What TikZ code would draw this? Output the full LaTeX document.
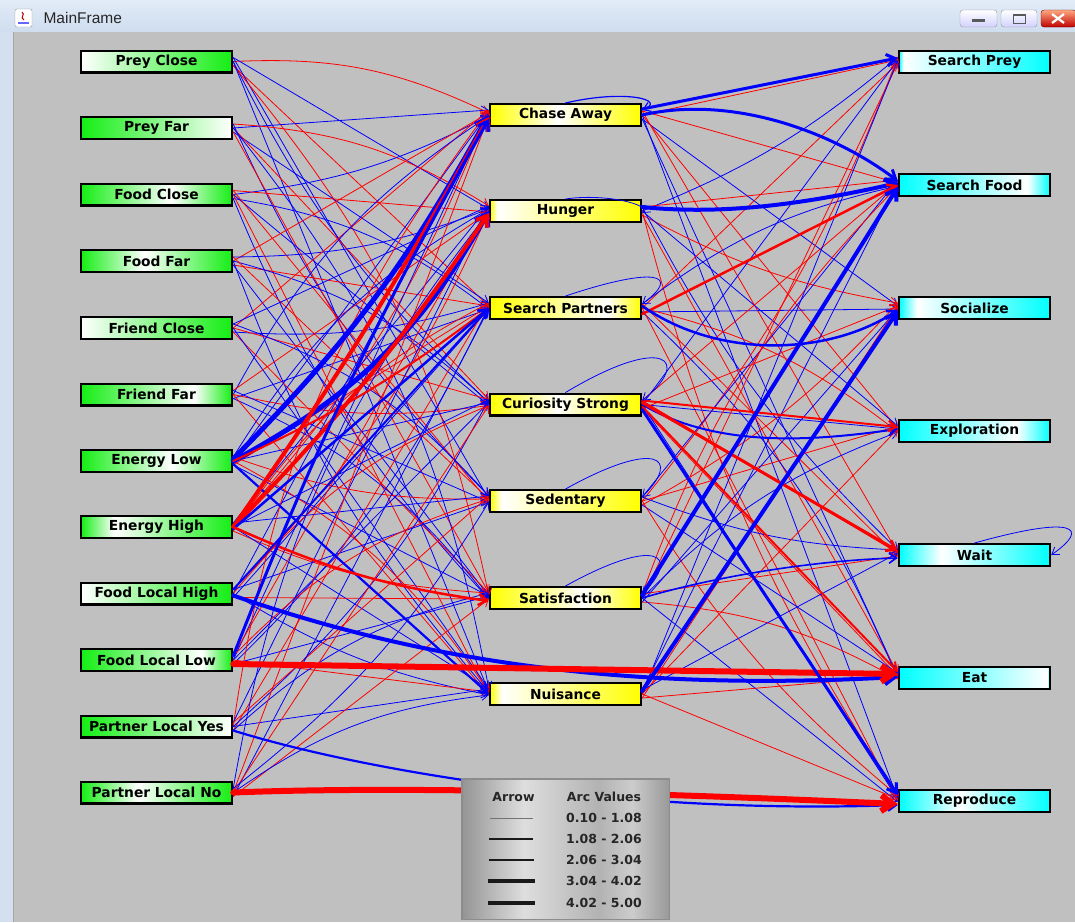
\documentclass[tikz,border=0pt]{standalone}
\usepackage{fontspec}
\setmainfont{DejaVu Sans}
\newfontfamily\titlefont{Liberation Sans}
\usetikzlibrary{arrows.meta,calc}
\definecolor{winbg}{RGB}{192,192,192}
\definecolor{ngreen}{RGB}{20,238,20}
\definecolor{nyellow}{RGB}{255,255,0}
\definecolor{ncyan}{RGB}{0,255,255}
\definecolor{arcred}{RGB}{255,0,0}
\definecolor{arcblue}{RGB}{0,0,255}
\definecolor{tbtop}{RGB}{226,235,247}
\definecolor{tbbot}{RGB}{206,221,239}
\definecolor{wframe}{RGB}{210,224,240}
\newcommand\mkgrad[3]{%
  \pgfmathsetmacro\gpos{25+50*#3}%
  \edef\gtmp{\noexpand\pgfdeclarehorizontalshading{#1}{100bp}{color(0bp)=(#2); color(25bp)=(#2); color(\gpos bp)=(white); color(75bp)=(#2); color(100bp)=(#2)}}%
  \gtmp}
\mkgrad{gL1}{ngreen}{0.0}
\mkgrad{gL2}{ngreen}{1.0}
\mkgrad{gL3}{ngreen}{0.6}
\mkgrad{gL4}{ngreen}{0.42}
\mkgrad{gL5}{ngreen}{0.0}
\mkgrad{gL6}{ngreen}{0.75}
\mkgrad{gL7}{ngreen}{0.6}
\mkgrad{gL8}{ngreen}{0.22}
\mkgrad{gL9}{ngreen}{0.0}
\mkgrad{gL10}{ngreen}{0.8}
\mkgrad{gL11}{ngreen}{1.0}
\mkgrad{gL12}{ngreen}{0.38}
\mkgrad{gM1}{nyellow}{0.45}
\mkgrad{gM2}{nyellow}{0.05}
\mkgrad{gM3}{nyellow}{0.78}
\mkgrad{gM4}{nyellow}{0.45}
\mkgrad{gM5}{nyellow}{0.08}
\mkgrad{gM6}{nyellow}{0.62}
\mkgrad{gM7}{nyellow}{0.08}
\mkgrad{gR1}{ncyan}{0.03}
\mkgrad{gR2}{ncyan}{0.85}
\mkgrad{gR3}{ncyan}{0.12}
\mkgrad{gR4}{ncyan}{0.78}
\mkgrad{gR5}{ncyan}{0.28}
\mkgrad{gR6}{ncyan}{0.98}
\mkgrad{gR7}{ncyan}{0.4}
\pgfdeclarehorizontalshading{silver}{100bp}{color(0bp)=(black!42); color(25bp)=(black!42); color(40bp)=(black!13); color(58bp)=(black!30); color(66bp)=(black!20); color(75bp)=(black!40); color(100bp)=(black!40)}
\tikzset{
  box/.style={draw=black, line width=2.4pt, minimum width=151pt, minimum height=21.6pt, inner sep=0pt, font=\fontsize{13.8}{16}\selectfont\bfseries, text=black},
  gshade/.style={box, shade, shading=#1},
  arcline/.style={-{Straight Barb[length=6pt 0.9, width=8pt 1.3]}, line cap=round},
  thinarc/.style={arcline, line width=0.8pt},
  legtext/.style={font=\fontsize{12.5}{15}\selectfont\bfseries, text=black!85},
}
\begin{document}
\begin{tikzpicture}[x=1pt,y=-1pt]
\useasboundingbox (0,0) rectangle (1075,922);
% window
\shade[top color=tbtop, bottom color=tbbot] (0,0) rectangle (1075,32);
\fill[wframe] (0,32) rectangle (13,922);
\fill[winbg] (13,32) rectangle (1075,922);
\draw[black!35] (13,32) -- (13,922);
% icon
\draw[rounded corners=2pt, fill=white, draw=black!40] (15,9) rectangle (32,27);
\draw[red!70!black, line width=1pt] (22,12) .. controls (26,15) and (19,17) .. (24,20);
\draw[blue!60, line width=1.2pt] (18,23) -- (29,23);
\node[anchor=west, font=\titlefont\fontsize{15.5}{18}\selectfont, text=black!85] (title) at (40,18) {MainFrame};
% buttons
\draw[rounded corners=3pt, draw=black!40, top color=white, bottom color=blue!18] (960,10) rectangle (997,27);
\fill[black!65] (972,19) rectangle (985,22);
\draw[rounded corners=3pt, draw=black!40, top color=white, bottom color=blue!18] (1001,10) rectangle (1037,27);
\draw[black!65, line width=1pt] (1013,14) rectangle (1025,23);
\draw[black!65, line width=1.5pt] (1013,15) -- (1025,15);
\draw[rounded corners=3pt, draw=red!40!black, top color=red!35!orange!50, bottom color=red!75!black] (1041,10) rectangle (1076,27);
\draw[white, line width=2.2pt] (1052,14) -- (1064,23) (1052,23) -- (1064,14);
% left nodes
\node[gshade=gL1] (L1) at (156.5,61.5) {Prey Close};
\node[gshade=gL2] (L2) at (156.5,128) {Prey Far};
\node[gshade=gL3] (L3) at (156.5,194.5) {Food Close};
\node[gshade=gL4] (L4) at (156.5,261) {Food Far};
\node[gshade=gL5] (L5) at (156.5,328) {Friend Close};
\node[gshade=gL6] (L6) at (156.5,394.5) {Friend Far};
\node[gshade=gL7] (L7) at (156.5,461) {Energy Low};
\node[gshade=gL8] (L8) at (156.5,527) {Energy High};
\node[gshade=gL9] (L9) at (156.5,593.5) {Food Local High};
\node[gshade=gL10] (L10) at (156.5,660) {Food Local Low};
\node[gshade=gL11] (L11) at (156.5,726.5) {Partner Local Yes};
\node[gshade=gL12] (L12) at (156.5,792.5) {Partner Local No};
% middle nodes
\node[gshade=gM1] (M1) at (565.5,115) {Chase Away};
\node[gshade=gM2] (M2) at (565.5,211) {Hunger};
\node[gshade=gM3] (M3) at (565.5,308) {Search Partners};
\node[gshade=gM4] (M4) at (565.5,404.5) {Curiosity Strong};
\node[gshade=gM5] (M5) at (565.5,501) {Sedentary};
\node[gshade=gM6] (M6) at (565.5,598) {Satisfaction};
\node[gshade=gM7] (M7) at (565.5,694) {Nuisance};
% right nodes
\node[gshade=gR1] (R1) at (974.5,62) {Search Prey};
\node[gshade=gR2] (R2) at (974.5,185) {Search Food};
\node[gshade=gR3] (R3) at (974.5,308) {Socialize};
\node[gshade=gR4] (R4) at (974.5,431) {Exploration};
\node[gshade=gR5] (R5) at (974.5,555) {Wait};
\node[gshade=gR6] (R6) at (974.5,678) {Eat};
\node[gshade=gR7] (R7) at (974.5,801) {Reproduce};
% thin arcs left -> middle
\foreach \i in {1,...,12}{
  \foreach \j in {1,...,7}{
    \pgfmathtruncatemacro{\ecol}{mod(\i*5+\j*3,7)}
    \pgfmathtruncatemacro{\ebb}{mod(\i*3+\j*2,5)}
    \pgfmathsetmacro{\ebend}{(\ebb==0)*14-(\ebb==1)*10}
    \pgfmathsetmacro{\esy}{(mod(\j,3)-1)*4}
    \pgfmathsetmacro{\ety}{(mod(\i,3)-1)*3+2}
    \ifnum\ecol<3 \def\ecolname{arcred}\else\def\ecolname{arcblue}\fi
    \draw[thinarc, draw=\ecolname] ([yshift=\esy pt]L\i.east) to[bend left=\ebend] ([yshift=\ety pt]M\j.west);
  }
}
% thin arcs middle -> right
\foreach \j in {1,...,7}{
  \foreach \k in {1,...,7}{
    \pgfmathtruncatemacro{\ecol}{mod(\j*3+\k*5+1,7)}
    \pgfmathtruncatemacro{\ebb}{mod(\j*2+\k*3,6)}
    \pgfmathsetmacro{\ebend}{(\ebb==0)*12-(\ebb==1)*9}
    \pgfmathsetmacro{\esy}{(mod(\k,3)-1)*4}
    \pgfmathsetmacro{\ety}{(mod(\j,3)-1)*3+2}
    \ifnum\ecol<4 \def\ecolname{arcred}\else\def\ecolname{arcblue}\fi
    \draw[thinarc, draw=\ecolname] ([yshift=\esy pt]M\j.east) to[bend left=\ebend] ([yshift=\ety pt]R\k.west);
  }
}
% thick arcs left -> middle
\draw[arcline, arcblue, line width=5pt] ([yshift=2pt]L7.east) to[bend right=8] (M1.west);
\draw[arcblue, arcline, line width=5pt] (L7.east) to[bend right=16] (M2.west);
\draw[arcred, arcline, line width=2pt] (L7.east) to[bend right=6] (M3.west);
\draw[arcblue, arcline, line width=2.2pt] ([yshift=-3pt]L7.east) to (M7.west);
\draw[arcred, arcline, line width=4pt] (L8.east) to[bend right=3] ([yshift=-2pt]M1.west);
\draw[arcred, arcline, line width=4pt] (L8.east) to[bend right=5] ([yshift=-2pt]M2.west);
\draw[arcblue, arcline, line width=2.5pt] ([yshift=-2pt]L8.east) to (M3.west);
\draw[arcred, arcline, line width=2.5pt] (L8.east) to[bend right=8] ([yshift=-3pt]M6.west);
\draw[arcblue, arcline, line width=3pt] ([yshift=4pt]L10.east) to[bend left=4] ([yshift=-4pt]M1.west);
\draw[arcblue, arcline, line width=2pt] ([yshift=4pt]L9.east) to (M3.west);
% thick arcs left -> right
\draw[arcblue, arcline, line width=4pt] ([yshift=-2pt]L9.east) .. controls (420,660) and (620,692) .. ([yshift=1pt]R6.west);
\draw[arcred, arcline, line width=6pt] ([yshift=-4pt]L10.east) -- ([yshift=4pt]R6.west);
\draw[arcblue, arcline, line width=2.2pt] ([yshift=-4pt]L11.east) .. controls (360,770) and (620,815) .. ([yshift=-4pt]R7.west);
\draw[arcred, arcline, line width=6pt] (L12.east) .. controls (420,785) and (700,795) .. ([yshift=-3pt]R7.west);
% thick arcs middle -> right
\draw[arcblue, arcline, line width=3pt] ([yshift=6pt]M1.east) -- ([yshift=4pt]R1.west);
\draw[arcblue, arcline, line width=3pt] (M1.east) .. controls (730,95) and (830,130) .. ([yshift=4pt]R2.west);
\draw[arcblue, arcline, line width=4pt] ([yshift=4pt]M2.east) .. controls (720,215) and (800,205) .. ([yshift=2pt]R2.west);
\draw[arcred, arcline, line width=2.5pt] ([yshift=-6pt]M3.east) -- (R2.west);
\draw[arcblue, arcline, line width=2.5pt] ([yshift=2pt]M3.east) .. controls (720,360) and (830,355) .. ([yshift=-2pt]R3.west);
\draw[arcblue, arcline, line width=2pt] (M4.east) .. controls (720,450) and (820,440) .. ([yshift=2pt]R4.west);
\draw[arcred, arcline, line width=2pt] ([yshift=4pt]M4.east) -- ([yshift=4pt]R4.west);
\draw[arcred, arcline, line width=3pt] ([yshift=2pt]M4.east) -- ([yshift=4pt]R5.west);
\draw[arcred, arcline, line width=2pt] ([yshift=-2pt]M4.east) -- ([yshift=6pt]R6.west);
\draw[arcblue, arcline, line width=3pt] ([yshift=-5pt]M4.east) -- ([yshift=6pt]R7.west);
\draw[arcblue, arcline, line width=4pt] ([yshift=3pt]M6.east) -- ([yshift=-2pt]R2.west);
\draw[arcblue, arcline, line width=4pt] ([yshift=3pt]M7.east) -- ([yshift=-3pt]R3.west);
\draw[arcblue, arcline, line width=1.6pt] (M6.east) .. controls (720,575) and (820,560) .. ([yshift=-3pt]R5.west);
% self loops
\draw[thinarc, arcblue, line width=1.2pt] (M1.north) .. controls +(60,-14) and +(25,-10) .. ([yshift=5pt]M1.east);
\draw[thinarc, arcblue] (M2.north) .. controls +(40,-6) and +(10,-8) .. ([yshift=-2pt]M2.east);
\draw[thinarc, arcblue] (M3.north) .. controls +(90,-30) and +(40,-30) .. ([yshift=4pt]M3.east);
\draw[thinarc, arcblue] (M4.north) .. controls +(100,-60) and +(50,-40) .. ([yshift=4pt]M4.east);
\draw[thinarc, arcblue] (M5.north) .. controls +(90,-50) and +(40,-40) .. ([yshift=4pt]M5.east);
\draw[thinarc, arcblue] (M6.north) .. controls +(90,-50) and +(40,-40) .. ([yshift=4pt]M6.east);
\draw[thinarc, arcblue] (R5.north) .. controls +(100,-28) and +(40,-28) .. (R5.east);
% legend
\node[draw=black!45, line width=1.5pt, shade, shading=silver, minimum width=207.5pt, minimum height=140.5pt, inner sep=0pt] (legend) at (565.5,849) {};
\node[legtext] (lgA) at (513.5,797) {Arrow};
\node[legtext] (lgV) at (604,797) {Arc Values};
\node[legtext] (lg1) at (604,818) {0.10 - 1.08};
\node[legtext] (lg2) at (604,839) {1.08 - 2.06};
\node[legtext] (lg3) at (604,860) {2.06 - 3.04};
\node[legtext] (lg4) at (604,881) {3.04 - 4.02};
\node[legtext] (lg5) at (604,903) {4.02 - 5.00};
\draw[line width=1pt, black!55] (490,818) -- (533,818);
\draw[line width=1.8pt, black!90] (489,839) -- (533,839);
\draw[line width=2.6pt, black!90] (489,860) -- (534,860);
\draw[line width=3.6pt, black!90] (488,881) -- (535,881);
\draw[line width=4.6pt, black!90] (488,903) -- (535,903);
\end{tikzpicture}
\end{document}
